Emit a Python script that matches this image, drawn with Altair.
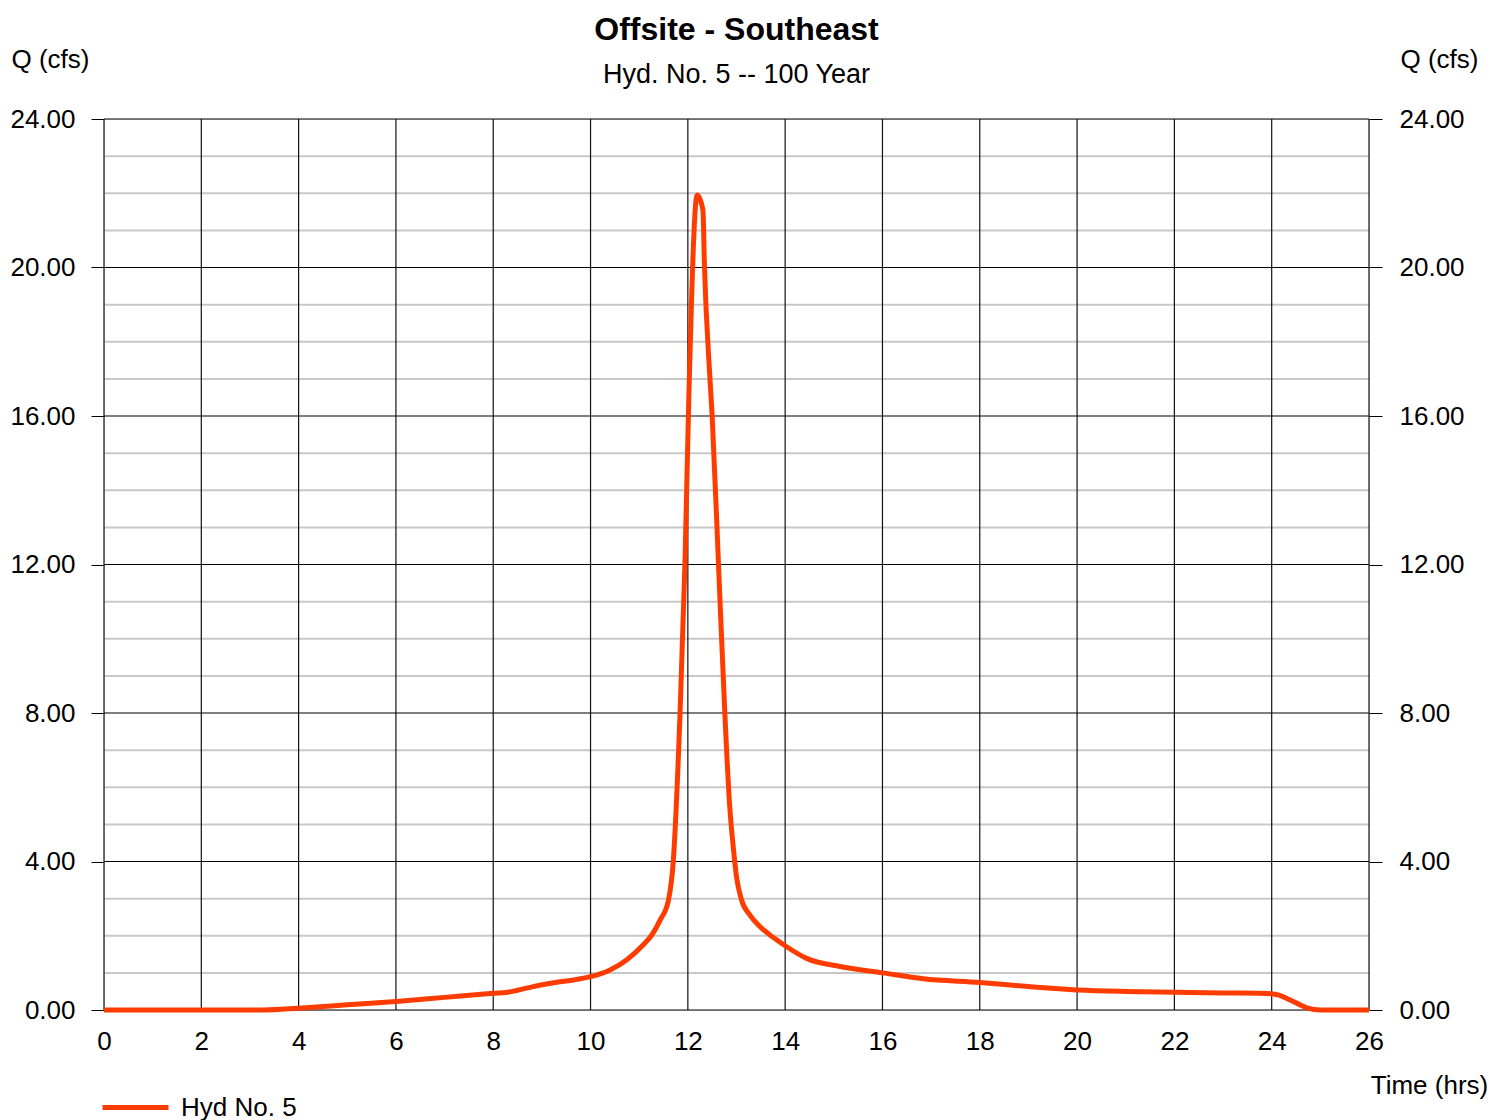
import altair as alt
import pandas as pd

# Hydrograph ordinates (time in hours, discharge in cfs)
TIME_HRS = [0.0, 3.3, 4.0, 5.0, 6.0, 7.0, 8.0, 8.3, 8.82, 9.37, 9.65, 10.0,
            10.4, 10.74, 11.08, 11.26, 11.43, 11.6, 11.70, 11.84, 11.94, 12.02,
            12.19, 12.31, 12.34, 12.45, 12.50, 12.63, 12.76, 12.86, 12.94, 13.0,
            13.1, 13.28, 13.48, 13.76, 14.0, 14.44, 15.13, 16.0, 16.84, 18.0,
            19.0, 20.0, 21.0, 22.0, 23.0, 24.0, 24.15, 24.38, 24.72, 25.0, 26.0]
FLOW_CFS = [0.0, 0.0, 0.05, 0.14, 0.23, 0.34, 0.45, 0.48, 0.63, 0.76, 0.81, 0.90,
            1.08, 1.35, 1.75, 2.02, 2.42, 2.95, 4.0, 8.0, 12.0, 16.5,
            21.95, 21.55, 20.1, 17.1, 16.0, 12.0, 8.0, 5.5, 4.3, 3.59,
            2.98, 2.55, 2.25, 1.95, 1.73, 1.39, 1.17, 1.0, 0.84, 0.74,
            0.63, 0.54, 0.50, 0.48, 0.46, 0.44, 0.40, 0.27, 0.06, 0.0, 0.0]
SERIES = "Hyd No. 5"

# Grid / tick values
MINOR_Q = [v for v in range(0, 25) if v % 4 != 0]
MAJOR_Q = list(range(0, 25, 4))
HOURS = list(range(0, 27, 2))

FONT = "Liberation Sans"
LINE_COLOR = "#ff3c00"

hyd = pd.DataFrame({"t": TIME_HRS, "q": FLOW_CFS, "series": SERIES})
minor = pd.DataFrame({"q": MINOR_Q})
major = pd.DataFrame({"q": MAJOR_Q})
hours = pd.DataFrame({"t": HOURS})

x_scale = alt.Scale(domain=[0, 26], nice=False, zero=False)
y_scale = alt.Scale(domain=[0, 24], nice=False)

left_axis = alt.Axis(
    values=MAJOR_Q, format=".2f", grid=False, domain=False,
    tickSize=13, tickColor="#000", tickWidth=1, labelPadding=16,
    labelFontSize=26, labelFont=FONT, labelColor="#000", labelFlush=False,
    title="Q (cfs)", titleAngle=0, titleX=-54, titleY=-60,
    titleAlign="center", titleBaseline="middle", titleFont=FONT,
    titleFontSize=26, titleFontWeight="normal", titleColor="#000",
)
right_axis = alt.Axis(
    orient="right", values=MAJOR_Q, format=".2f", grid=False, domain=False,
    tickSize=13, tickColor="#000", tickWidth=1, labelPadding=17,
    labelFontSize=26, labelFont=FONT, labelColor="#000", labelFlush=False,
    title="Q (cfs)", titleAngle=0, titleX=70, titleY=-60,
    titleAlign="center", titleBaseline="middle", titleFont=FONT,
    titleFontSize=26, titleFontWeight="normal", titleColor="#000",
)
x_axis = alt.Axis(
    values=HOURS, grid=False, domain=False, ticks=False, labelPadding=18,
    labelFontSize=26, labelFont=FONT, labelColor="#000", labelFlush=False,
    labelOverlap=False,
    title="Time (hrs)", titleX=1325, titleY=75, titleAlign="center",
    titleBaseline="middle", titleFont=FONT, titleFontSize=26,
    titleFontWeight="normal", titleColor="#000",
)

minor_rules = alt.Chart(minor).mark_rule(color="#c8c8c8", strokeWidth=2).encode(
    y=alt.Y("q:Q", scale=y_scale, axis=left_axis)
)
major_rules = alt.Chart(major).mark_rule(color="#000", strokeWidth=1.2).encode(
    y=alt.Y("q:Q", scale=y_scale, axis=None)
)
hour_rules = alt.Chart(hours).mark_rule(color="#111", strokeWidth=1.2).encode(
    x=alt.X("t:Q", scale=x_scale, axis=x_axis)
)
line = alt.Chart(hyd).mark_line(
    strokeWidth=5, strokeJoin="round", interpolate="monotone"
).encode(
    x=alt.X("t:Q", scale=x_scale, axis=x_axis),
    y=alt.Y("q:Q", scale=y_scale, axis=right_axis),
    color=alt.Color(
        "series:N",
        scale=alt.Scale(range=[LINE_COLOR]),
        legend=alt.Legend(
            orient="none", legendX=-4, legendY=953, title=None,
            symbolType="stroke", symbolSize=4356, symbolStrokeWidth=5,
            labelFontSize=26, labelFont=FONT, labelColor="#000",
            labelOffset=10, padding=0,
        ),
    ),
)

chart = (
    alt.layer(minor_rules, major_rules, hour_rules, line)
    .resolve_scale(y="independent")
    .properties(
        width=1265,
        height=891,
        autosize=alt.AutoSizeParams(type="none"),
        padding={"left": 104, "top": 119, "right": 123, "bottom": 110},
        title=alt.TitleParams(
            text="Offsite - Southeast",
            subtitle="Hyd. No. 5 -- 100 Year",
            anchor="middle", font=FONT, fontSize=32, fontWeight="bold",
            color="#000", subtitleFont=FONT, subtitleFontSize=27,
            subtitleColor="#000", subtitlePadding=15, offset=-43,
        ),
    )
    .configure_view(stroke=None)
    .configure(background="white")
)

chart.save("out.html", embed_options={"renderer": "svg", "actions": False})
